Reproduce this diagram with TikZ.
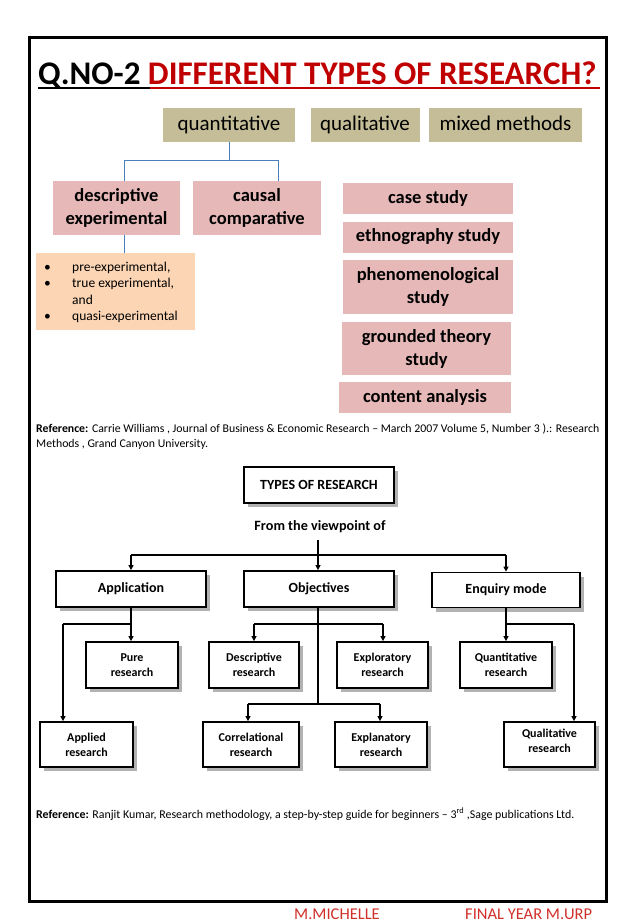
\documentclass[tikz,border=0pt]{standalone}
\usepackage{fontspec}
\setmainfont{Carlito}
\usetikzlibrary{arrows.meta,shadows}
\definecolor{khaki}{HTML}{C4BD97}
\definecolor{pinkbox}{HTML}{E6B9B8}
\definecolor{orangebox}{HTML}{FCD5B4}
\definecolor{treeblue}{HTML}{4A7EBB}
\definecolor{titlered}{HTML}{C00000}
\definecolor{footred}{HTML}{D0302A}
\newcommand\myfs[2]{\fontsize{#1bp}{#2bp}\selectfont}
\pgfdeclarelayer{bg}
\pgfsetlayers{bg,main}
\begin{document}
\begin{tikzpicture}[x=1bp,y=-1bp,
  topbox/.style={fill=khaki, inner sep=0pt, font=\myfs{21}{25}, text height=15bp, text depth=4bp},
  pinkb/.style={fill=pinkbox, inner sep=0pt, align=center, font=\bfseries\myfs{18.5}{23}},
  tline/.style={draw=treeblue, line width=1bp},
  rbox/.style={draw=black, line width=1.8bp, fill=white, inner sep=0pt, align=center,
    drop shadow={shadow xshift=4bp, shadow yshift=-4bp, fill=black!30, opacity=1}},
  bigbox/.style={rbox, font=\bfseries\myfs{14}{17}},
  smallbox/.style={rbox, font=\bfseries\myfs{12}{15}},
  arr/.style={draw=black, line width=1.5bp, -{Triangle[length=5bp,width=5bp]}},
  lnk/.style={draw=black, line width=1.5bp},
  txt/.style={inner sep=0pt, anchor=base west},
]
\useasboundingbox (0,0) rectangle (638,922);
\fill[white] (0,0) rectangle (638,922);

% frame
\node[draw=black, line width=3bp, minimum width=576bp, minimum height=863bp, inner sep=0pt] (frame) at (318,469.5) {};

% title
\node[txt, font=\bfseries\myfs{33}{37}] (title) at (38,84) {Q.NO-2 \textcolor{titlered}{DIFFERENT TYPES OF RESEARCH?}};
\coordinate (ul1) at (38,88);
\coordinate (ul2) at (150,88);
\coordinate (ul3) at (600,88);
\draw[line width=1.6bp] (ul1) -- (ul2);
\draw[line width=1.6bp, titlered] (ul2) -- (ul3);

% top row
\node[topbox, minimum width=132bp, minimum height=34bp] (quant) at (229,124.5) {quantitative};
\node[topbox, minimum width=109bp, minimum height=34bp] (qual) at (365,124.5) {qualitative};
\node[topbox, minimum width=153bp, minimum height=34bp] (mixed) at (505.5,124.5) {mixed methods};

% quantitative branch
\node[pinkb, minimum width=127bp, minimum height=54bp] (desc) at (116.5,208) {descriptive\\experimental};
\node[pinkb, minimum width=128bp, minimum height=54bp] (causal) at (257,208) {causal\\comparative};
\coordinate (qj) at (229,160);
\coordinate (dj) at (124,160);
\coordinate (cj) at (278,160);
\draw[tline] (quant.south) -- (qj);
\draw[tline] (dj) -- (cj);
\draw[tline] (dj) -- (dj |- desc.north);
\draw[tline] (cj) -- (cj |- causal.north);

\node[fill=orangebox, inner sep=0pt, minimum width=159bp, minimum height=77bp] (bul) at (115.5,291.5) {};
\coordinate (dx) at (124,235);
\draw[tline] (dx) -- (dx |- bul.north);
\begin{scope}[every node/.style={txt, font=\myfs{13.5}{17}}]
\node (b1) at (44,271) {•};
\node (t1) at (72,271) {pre-experimental,};
\node (b2) at (44,287.5) {•};
\node (t2) at (72,287.5) {true experimental,};
\node (t3) at (72,304) {and};
\node (b4) at (44,320.5) {•};
\node (t4) at (72,320.5) {quasi-experimental};
\end{scope}

% qualitative stack
\node[pinkb, minimum width=170bp, minimum height=31bp] (case) at (428,198) {case study};
\node[pinkb, minimum width=170bp, minimum height=31bp] (ethno) at (428,237) {ethnography study};
\node[pinkb, minimum width=170bp, minimum height=54bp] (phen) at (428,287) {phenomenological\\study};
\node[pinkb, minimum width=169bp, minimum height=53bp] (ground) at (426.5,348.5) {grounded theory\\study};
\node[pinkb, minimum width=172bp, minimum height=31bp] (content) at (425,397) {content analysis};
\coordinate (qx) at (376,141);
\begin{pgfonlayer}{bg}
\draw[tline] (qx) -- (qx |- content.north);
\end{pgfonlayer}

% reference 1
\node[txt, font=\myfs{11.8}{14}] (ref1a) at (36,432) {\textbf{Reference:} Carrie Williams , Journal of Business \& Economic Research – March 2007 Volume 5, Number 3 ).: Research};
\node[txt, font=\myfs{11.8}{14}] (ref1b) at (36,447) {Methods , Grand Canyon University.};

% lower chart
\node[bigbox, font=\bfseries\myfs{14}{16}, minimum width=150bp, minimum height=36bp] (types) at (319,485) {TYPES OF RESEARCH};
\node[inner sep=0pt, font=\bfseries\myfs{14.2}{16}] (view) at (320,527) {From the viewpoint of};

\node[bigbox, minimum width=150bp, minimum height=36bp] (app) at (131,589) {Application};
\node[bigbox, minimum width=150bp, minimum height=36bp] (obj) at (319,589) {Objectives};
\node[bigbox, minimum width=148bp, minimum height=35bp] (enq) at (506,590) {Enquiry mode};

\node[smallbox, minimum width=92bp, minimum height=46bp] (pure) at (132,665) {Pure\\research};
\node[smallbox, minimum width=90bp, minimum height=46bp] (descr) at (254,665) {Descriptive\\research};
\node[smallbox, minimum width=91bp, minimum height=46bp] (explo) at (382.5,665) {Exploratory\\research};
\node[smallbox, minimum width=92bp, minimum height=46bp] (quanr) at (506,665) {Quantitative\\research};

\node[smallbox, minimum width=93bp, minimum height=45bp] (appl) at (86.5,744.5) {Applied\\research};
\node[smallbox, minimum width=96bp, minimum height=45bp] (corr) at (251,744.5) {Correlational\\research};
\node[smallbox, minimum width=92bp, minimum height=45bp] (expla) at (381,744.5) {Explanatory\\research};
\node[smallbox, minimum width=91bp, minimum height=45bp, text depth=8bp] (qualr) at (549.5,744.5) {Qualitative\\research};

% connectors lower chart
\coordinate (vtop) at (318,540);
\coordinate (hl) at (131,555);
\coordinate (hr) at (506,555);
\draw[arr] (vtop) -- (vtop |- obj.north);
\draw[lnk] (hl) -- (hr);
\draw[arr] (hl) -- (hl |- app.north);
\draw[arr] (hr) -- (hr |- enq.north);

% application branch
\coordinate (aj) at (131,624);
\coordinate (al) at (63,624);
\draw[lnk] (app.south -| aj) -- (aj);
\draw[arr] (aj) -- (aj |- pure.north);
\draw[lnk] (al) -- (aj);
\draw[arr] (al) -- (al |- appl.north);

% objectives branch
\coordinate (ob) at (318,704);
\coordinate (oj1l) at (254,624);
\coordinate (oj1r) at (383,624);
\coordinate (oj2l) at (248,704);
\coordinate (oj2r) at (380,704);
\draw[lnk] (obj.south -| ob) -- (ob);
\draw[lnk] (oj1l) -- (oj1r);
\draw[arr] (oj1l) -- (oj1l |- descr.north);
\draw[arr] (oj1r) -- (oj1r |- explo.north);
\draw[lnk] (oj2l) -- (oj2r);
\draw[arr] (oj2l) -- (oj2l |- corr.north);
\draw[arr] (oj2r) -- (oj2r |- expla.north);

% enquiry branch
\coordinate (ej) at (506,624);
\coordinate (er) at (574,624);
\draw[arr] (enq.south) -- (enq.south |- quanr.north);
\draw[lnk] (ej) -- (er);
\draw[arr] (er) -- (er |- qualr.north);

% reference 2
\node[txt, font=\myfs{11.9}{14}] (ref2) at (36,818) {\textbf{Reference:} Ranjit Kumar, Research methodology, a step-by-step guide for beginners – 3\textsuperscript{rd} ,Sage publications Ltd.};

% footer
\node[txt, font=\myfs{16.5}{18}, text=footred] (foot1) at (294,919) {M.MICHELLE};
\node[txt, font=\myfs{16.5}{18}, text=footred] (foot2) at (465,919) {FINAL YEAR M.URP};
\end{tikzpicture}
\end{document}
